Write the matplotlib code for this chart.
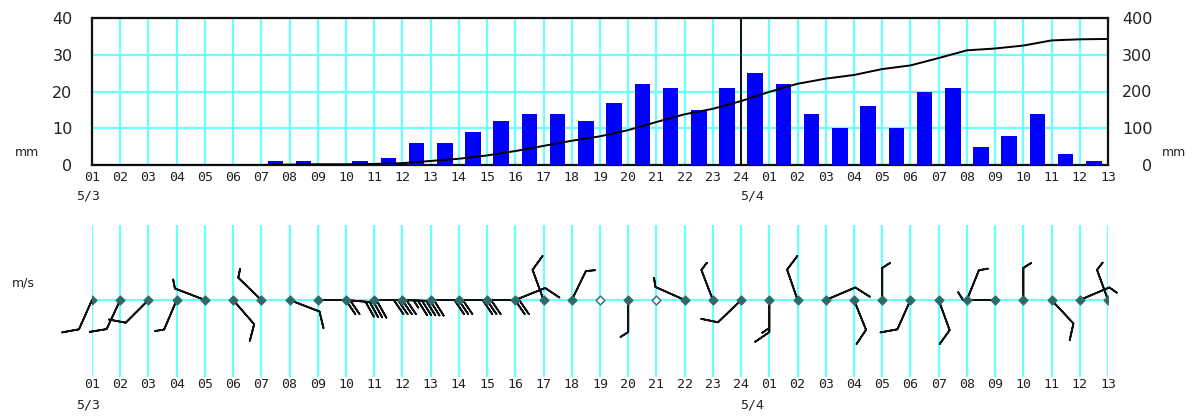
import numpy as np
import matplotlib
matplotlib.use('Agg')
import matplotlib.pyplot as plt
from matplotlib.transforms import blended_transform_factory

# ---------------- data ----------------
hour_labels = ['01', '02', '03', '04', '05', '06', '07', '08', '09', '10', '11', '12',
               '13', '14', '15', '16', '17', '18', '19', '20', '21', '22', '23', '24',
               '01', '02', '03', '04', '05', '06', '07', '08', '09', '10', '11', '12', '13']
date_labels = ['5/3', '5/4']
date_label_hour = [0, 23]          # index of the hour tick each date belongs to

# hourly precipitation (mm) for each interval between consecutive hour ticks
hourly_rain = [0, 0, 0, 0, 0, 0, 1, 1, 0, 1, 2, 6,
               6, 9, 12, 14, 14, 12, 17, 22, 21, 15, 21, 25,
               22, 14, 10, 16, 10, 20, 21, 5, 8, 14, 3, 1]

# wind direction (deg, from) and speed (m/s) at each hour tick
wind_dir = [204, 205, 225, 203, 291, 139, 314, 111, 90, 95, 90, 92,
            90, 90, 90, 68, 340, 26, 0, 180, 0, 294, 339, 226,
            180, 341, 67, 158, 0, 204, 160, 22, 270, 0, 137, 67, 340]
wind_speed = [2, 2, 2, 1, 1, 2, 1, 2, 4, 8, 8, 11,
              6, 6, 4, 2, 2, 1, 0, 1, 0, 1, 1, 2,
              3, 2, 2, 2, 1, 2, 2, 1, 1, 1, 2, 1, 1]

# ---------------- style ----------------
W, H = 1199, 416
CYAN = '#6CFFFF'
MONO = 'DejaVu Sans Mono'
TXT = '#222222'

fig = plt.figure(figsize=(W / 100, H / 100), dpi=100)
fig.patch.set_facecolor('white')

x = np.arange(len(hour_labels))
n = len(hour_labels) - 1

# ---------------- top panel: rain ----------------
ax = fig.add_axes([92 / W, 1 - 165 / H, 1016 / W, 147 / H])
ax.set_xlim(0, n)
ax.set_ylim(0, 40)
ax.set_axisbelow(True)
ax.grid(True, color=CYAN, lw=1.6)
ax.bar(np.arange(n) + 0.5, hourly_rain, width=0.55, color='#0000FF', zorder=3)
ax.axvline(date_label_hour[1], color='black', lw=1.3, zorder=4)
ax.set_xticks(x, hour_labels, fontfamily=MONO, fontsize=9.5, color=TXT)
ax.set_yticks([0, 10, 20, 30, 40])
ax.set_yticklabels(['0', '10', '20', '30', '40'], fontsize=11.5, color=TXT)
ax.tick_params(axis='both', length=0)
ax.tick_params(axis='x', pad=4)
ax.tick_params(axis='y', pad=14)
for s in ax.spines.values():
    s.set_linewidth(1.6)
    s.set_color('#111111')

ax2 = ax.twinx()
ax2.set_ylim(0, 400)
cum = np.concatenate([[0], np.cumsum(hourly_rain)])
ax2.plot(x, cum, color='black', lw=1.4, zorder=5)
ax2.set_yticks([0, 100, 200, 300, 400])
ax2.set_yticklabels(['0', '100', '200', '300', '400'], fontsize=11.5, color=TXT)
ax2.tick_params(axis='y', length=0, pad=32)
for lbl in ax2.get_yticklabels():
    lbl.set_horizontalalignment('right')
for s in ax2.spines.values():
    s.set_visible(False)

tr_top = blended_transform_factory(ax.transData, fig.transFigure)
offsets = [-0.15, 0.4]
for lab, h, off in zip(date_labels, date_label_hour, offsets):
    ax.text(h + off, 1 - 196 / H, lab, transform=tr_top, ha='center', va='center',
            fontfamily=MONO, fontsize=9.5, color=TXT)

fig.text(15 / W, 1 - 152 / H, 'mm', ha='left', va='center', fontsize=9, color=TXT)
fig.text(1162 / W, 1 - 152 / H, 'mm', ha='left', va='center', fontsize=9, color=TXT)

# ---------------- bottom panel: wind ----------------
bx = fig.add_axes([92 / W, 1 - 377 / H, 1016 / W, 152 / H])
bx.set_xlim(0, n)
bx.set_ylim(-77, 75)
for s in bx.spines.values():
    s.set_visible(False)
bx.set_yticks([])
bx.set_axisbelow(True)
bx.grid(True, axis='x', color=CYAN, lw=1.6)
bx.axhline(0, color=CYAN, lw=1.6, zorder=1)
bx.set_xticks(x, hour_labels, fontfamily=MONO, fontsize=9.5, color=TXT)
bx.tick_params(axis='x', length=0, pad=1)

d = np.deg2rad(wind_dir)
spd = np.array(wind_speed, dtype=float)
u = -spd * np.sin(d)
v = -spd * np.cos(d)
zeros = np.zeros(len(x))
common = dict(length=6.8, pivot='tip', linewidth=1.3, color='#111111',
              zorder=3, clip_on=False)

# stations with only a short feather: draw that feather at the shaft end
light = spd == 1
strong = spd >= 2
bx.barbs(x[strong], zeros[strong], u[strong], v[strong],
         barb_increments=dict(half=1, full=2, flag=50),
         sizes=dict(spacing=0.13, height=0.44, width=0.6, emptybarb=0.001), **common)
bx.barbs(x[light], zeros[light], u[light], v[light],
         barb_increments=dict(half=0.5, full=1, flag=50),
         sizes=dict(spacing=0.13, height=0.24, width=0.3, emptybarb=0.001), **common)

calm = spd == 0
bx.scatter(x[~calm], zeros[~calm], marker='D', s=20, color='#2F6868', zorder=5)
bx.scatter(x[calm], zeros[calm], marker='D', s=20, facecolor='white',
           edgecolor='#2F6868', linewidth=1.0, zorder=5)

tr_bot = blended_transform_factory(bx.transData, fig.transFigure)
for lab, h, off in zip(date_labels, date_label_hour, offsets):
    bx.text(h + off, 1 - 405 / H, lab, transform=tr_bot, ha='center', va='center',
            fontfamily=MONO, fontsize=9.5, color=TXT)

fig.text(12 / W, 1 - 283 / H, 'm/s', ha='left', va='center', fontsize=9, color=TXT)

fig.savefig('out.png', dpi=100)
